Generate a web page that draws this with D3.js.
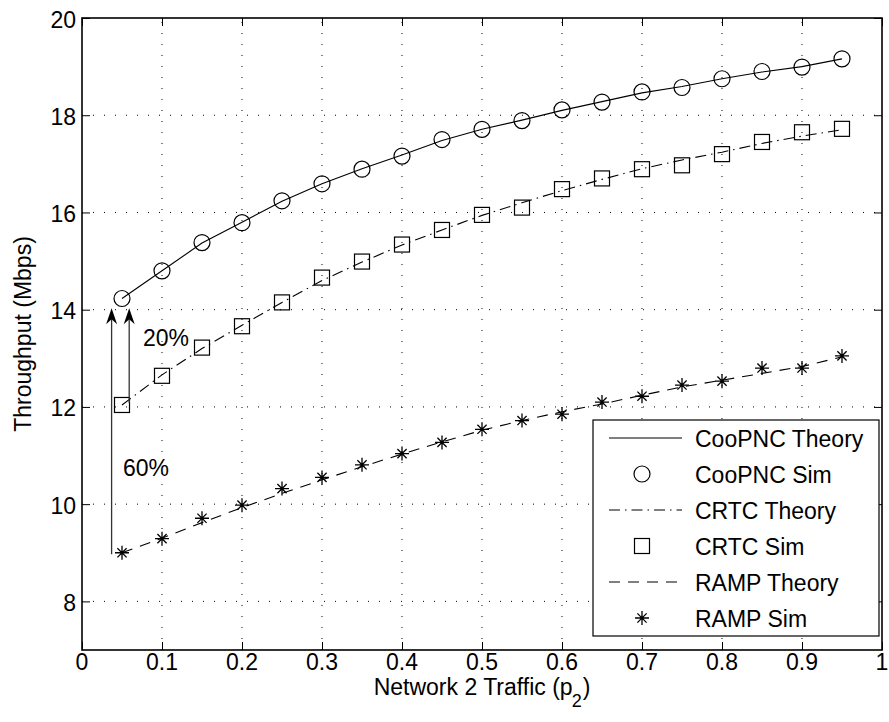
<!DOCTYPE html>
<html>
<head>
<meta charset="utf-8">
<script src="https://cdn.jsdelivr.net/npm/d3@7"></script>
<style>
  html, body { margin: 0; padding: 0; background: #fff; }
  svg { display: block; }
  text { font-family: "Liberation Sans", Arial, Helvetica, sans-serif; fill: #000; }
</style>
</head>
<body>
<svg id="chart" width="889" height="722"></svg>
<script>
// Network 2 traffic values (x)
const traffic = [0.05, 0.10, 0.15, 0.20, 0.25, 0.30, 0.35, 0.40, 0.45, 0.50,
                 0.55, 0.60, 0.65, 0.70, 0.75, 0.80, 0.85, 0.90, 0.95];

// Throughput in Mbps
const coopncTheory = [14.23, 14.80, 15.37, 15.80, 16.23, 16.59, 16.90, 17.18, 17.48, 17.71,
                      17.90, 18.10, 18.28, 18.46, 18.59, 18.75, 18.89, 19.00, 19.16];
const coopncSim    = [14.23, 14.80, 15.38, 15.79, 16.24, 16.59, 16.89, 17.16, 17.50, 17.71,
                      17.89, 18.11, 18.27, 18.48, 18.57, 18.75, 18.90, 18.99, 19.16];
const crtcTheory   = [12.04, 12.66, 13.20, 13.68, 14.15, 14.60, 14.98, 15.33, 15.64, 15.94,
                      16.20, 16.45, 16.68, 16.90, 17.08, 17.24, 17.42, 17.57, 17.70];
const crtcSim      = [12.04, 12.64, 13.22, 13.66, 14.15, 14.66, 14.99, 15.34, 15.64, 15.95,
                      16.10, 16.48, 16.70, 16.89, 16.97, 17.20, 17.45, 17.65, 17.72];
const rampTheory   = [9.00, 9.30, 9.62, 9.93, 10.22, 10.50, 10.77, 11.03, 11.28, 11.52,
                      11.72, 11.90, 12.06, 12.24, 12.41, 12.55, 12.69, 12.83, 13.03];
const rampSim      = [9.00, 9.29, 9.71, 9.98, 10.32, 10.55, 10.81, 11.04, 11.27, 11.54,
                      11.72, 11.85, 12.10, 12.22, 12.45, 12.53, 12.80, 12.80, 13.05];

// Axis ticks
const xTicks = [0, 0.1, 0.2, 0.3, 0.4, 0.5, 0.6, 0.7, 0.8, 0.9, 1];
const xTickLabels = ["0", "0.1", "0.2", "0.3", "0.4", "0.5", "0.6", "0.7", "0.8", "0.9", "1"];
const yTicks = [8, 10, 12, 14, 16, 18, 20];
const yTickLabels = ["8", "10", "12", "14", "16", "18", "20"];

// Gain annotations (arrows from baseline up to CooPNC level)
const gainX    = [0.037, 0.059];
const gainFrom = [8.97, 12.08];
const gainTo   = [14.03, 14.03];
const gainText = ["60%", "20%"];

const legendNames = ["CooPNC Theory", "CooPNC Sim", "CRTC Theory", "CRTC Sim", "RAMP Theory", "RAMP Sim"];

const svg = d3.select("#chart");
const plotLeft = 82, plotTop = 18, plotRight = 882, plotBottom = 650;
const FONT = 23;

const x = d3.scaleLinear().domain([0, 1]).range([plotLeft, plotRight]);
const y = d3.scaleLinear().domain([7, 20]).range([plotBottom, plotTop]);

// Dotted grid
const grid = svg.append("g").attr("stroke", "#000").attr("stroke-width", 1)
  .attr("stroke-dasharray", "1,10").attr("fill", "none");
xTicks.slice(1, -1).forEach(t => {
  grid.append("line").attr("x1", x(t)).attr("x2", x(t)).attr("y1", plotBottom).attr("y2", plotTop);
});
yTicks.slice(0, -1).forEach(t => {
  grid.append("line").attr("x1", plotLeft).attr("x2", plotRight).attr("y1", y(t)).attr("y2", y(t));
});

// Axes (ticks pointing inward, mirrored on the opposite sides)
const tickLen = 8;
const xAxisBottom = d3.axisBottom(x).tickValues(xTicks).tickSize(-tickLen).tickFormat("");
const xAxisTop = d3.axisTop(x).tickValues(xTicks).tickSize(-tickLen).tickFormat("");
const yAxisLeft = d3.axisLeft(y).tickValues(yTicks).tickSize(-tickLen).tickFormat("");
const yAxisRight = d3.axisRight(y).tickValues(yTicks).tickSize(-tickLen).tickFormat("");

function styleAxis(g) {
  g.select(".domain").remove();
  g.selectAll(".tick line").attr("stroke", "#000").attr("stroke-width", 1);
}
svg.append("g").attr("transform", `translate(0,${plotBottom})`).call(xAxisBottom).call(styleAxis);
svg.append("g").attr("transform", `translate(0,${plotTop})`).call(xAxisTop).call(styleAxis);
svg.append("g").attr("transform", `translate(${plotLeft},0)`).call(yAxisLeft).call(styleAxis);
svg.append("g").attr("transform", `translate(${plotRight},0)`).call(yAxisRight).call(styleAxis);

svg.append("rect").attr("x", plotLeft).attr("y", plotTop)
  .attr("width", plotRight - plotLeft).attr("height", plotBottom - plotTop)
  .attr("fill", "none").attr("stroke", "#000").attr("stroke-width", 1.6);

// Tick labels
svg.append("g").selectAll("text").data(xTicks).join("text")
  .attr("x", d => x(d)).attr("y", 670).attr("text-anchor", "middle")
  .attr("font-size", FONT).text((d, i) => xTickLabels[i]);
svg.append("g").selectAll("text").data(yTicks).join("text")
  .attr("x", 76).attr("y", d => y(d) + 9.5).attr("text-anchor", "end")
  .attr("font-size", FONT).text((d, i) => yTickLabels[i]);

// Axis titles
const xl = svg.append("text").attr("x", 482).attr("y", 695).attr("text-anchor", "middle").attr("font-size", FONT);
xl.append("tspan").text("Network 2 Traffic (p");
xl.append("tspan").attr("dx", -1).attr("dy", 12).attr("font-size", 18).text("2");
xl.append("tspan").attr("dx", 1).attr("dy", -12).text(")");

svg.append("text").attr("transform", "translate(31,334) rotate(-90)")
  .attr("text-anchor", "middle").attr("font-size", FONT).text("Throughput (Mbps)");

// Series
const series = [
  { theory: coopncTheory, sim: coopncSim, dash: null, marker: "circle" },
  { theory: crtcTheory, sim: crtcSim, dash: "11,5,1.5,5", marker: "square" },
  { theory: rampTheory, sim: rampSim, dash: "11,8", marker: "star" }
];

const line = d3.line().x(d => x(d[0])).y(d => y(d[1]));

function drawMarker(g, type, cx, cy) {
  if (type === "circle") {
    g.append("circle").attr("cx", cx).attr("cy", cy).attr("r", 8)
      .attr("fill", "none").attr("stroke", "#000").attr("stroke-width", 1.2);
  } else if (type === "square") {
    g.append("rect").attr("x", cx - 7.5).attr("y", cy - 7.5).attr("width", 15).attr("height", 15)
      .attr("fill", "none").attr("stroke", "#000").attr("stroke-width", 1.2);
  } else {
    const r = 7, q = 4.6;
    const p = `M${cx - r},${cy}L${cx + r},${cy}M${cx},${cy - r}L${cx},${cy + r}` +
              `M${cx - q},${cy - q}L${cx + q},${cy + q}M${cx - q},${cy + q}L${cx + q},${cy - q}`;
    g.append("path").attr("d", p).attr("stroke", "#000").attr("stroke-width", 1.3).attr("fill", "none");
  }
}

const plot = svg.append("g");
series.forEach(s => {
  plot.append("path").datum(traffic.map((t, i) => [t, s.theory[i]]))
    .attr("d", line).attr("fill", "none").attr("stroke", "#000").attr("stroke-width", 1.1)
    .attr("stroke-dasharray", s.dash);
  const mg = plot.append("g");
  traffic.forEach((t, i) => drawMarker(mg, s.marker, x(t), y(s.sim[i])));
});

// Gain arrows
const ann = svg.append("g");
gainX.forEach((gx, i) => {
  const ax = x(gx), y0 = y(gainFrom[i]), y1 = y(gainTo[i]);
  ann.append("line").attr("x1", ax).attr("x2", ax).attr("y1", y0).attr("y2", y1 + 10)
    .attr("stroke", "#333").attr("stroke-width", 1.3);
  ann.append("path")
    .attr("d", `M${ax},${y1}L${ax - 5.5},${y1 + 16}L${ax},${y1 + 11}L${ax + 5.5},${y1 + 16}Z`)
    .attr("fill", "#000");
});
ann.append("text").attr("x", 143).attr("y", 346).attr("font-size", FONT).text(gainText[1]);
ann.append("text").attr("x", 123).attr("y", 476).attr("font-size", FONT).text(gainText[0]);

// Legend
const lg = svg.append("g");
lg.append("rect").attr("x", 593).attr("y", 420).attr("width", 286).attr("height", 216)
  .attr("fill", "#fff").attr("stroke", "#000").attr("stroke-width", 1.2);
legendNames.forEach((name, i) => {
  const cy = 438 + i * 36;
  const s = series[Math.floor(i / 2)];
  if (i % 2 === 0) {
    lg.append("line").attr("x1", 609).attr("x2", 682).attr("y1", cy).attr("y2", cy)
      .attr("stroke", "#000").attr("stroke-width", 1.1).attr("stroke-dasharray", s.dash);
  } else {
    drawMarker(lg, s.marker, 642, cy);
  }
  lg.append("text").attr("x", 695).attr("y", cy + 8.5).attr("font-size", FONT).text(name);
});
</script>
</body>
</html>
